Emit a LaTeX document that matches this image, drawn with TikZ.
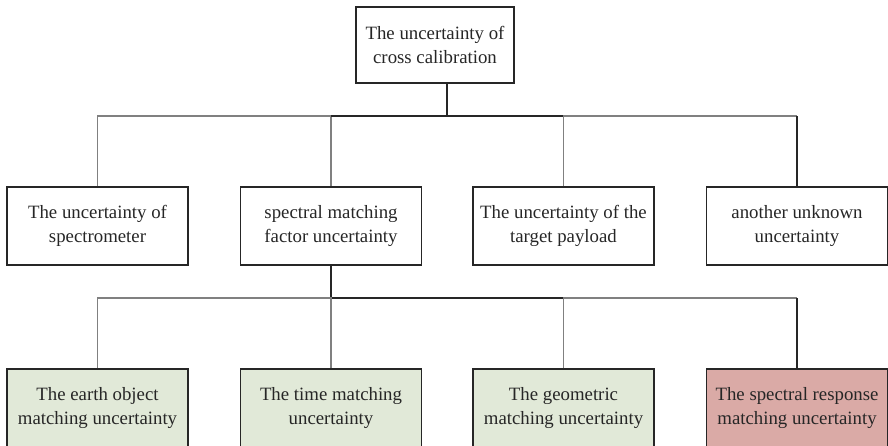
\documentclass[tikz,border=0pt]{standalone}
\usepackage{fontspec}
\setmainfont{Liberation Serif}
\definecolor{leafgreen}{RGB}{225,233,216}
\definecolor{leafred}{RGB}{218,170,166}
\begin{document}
\begin{tikzpicture}[
			x=1pt, y=-1pt,
			every node/.style={font=\fontsize{18.8}{24}\selectfont, align=center, text=black!85},
			box/.style={rectangle, draw=black!85, line width=1.2pt, minimum width=181pt, minimum height=78pt, inner sep=0pt},
			leaf/.style={box, fill=leafgreen},
			leafhot/.style={box, fill=leafred},
			link/.style={draw=black!85, line width=1.4pt},
			linkgray/.style={draw=black!50, line width=1.4pt}
		]
			\useasboundingbox (0,0) rectangle (888,445);

			\node[box, minimum width=158pt, minimum height=76pt] (root) at (435,45) {The uncertainty of\\cross calibration};

			\node[box] (spec) at (97.5,226) {The uncertainty of\\spectrometer};
			\node[box] (smf) at (331,226) {spectral matching\\factor uncertainty};
			\node[box] (tgt) at (563.5,226) {The uncertainty of the\\target payload};
			\node[box] (other) at (797,226) {another unknown\\uncertainty};

			\node[leaf] (earth) at (97.5,408) {The earth object\\matching uncertainty};
			\node[leaf] (time) at (331,408) {The time matching\\uncertainty};
			\node[leaf] (geo) at (563.5,408) {The geometric\\matching uncertainty};
			\node[leafhot] (resp) at (797,408) {The spectral response\\matching uncertainty};

			% first level
			\coordinate (hub) at (447,116);
			\draw[link] (hub |- root.south) -- (hub);
			\draw[linkgray] (spec.north) -- (spec.north |- hub) -- (smf.north |- hub) -- (smf.north);
			\draw[link] (smf.north |- hub) -- (tgt.north |- hub);
			\draw[linkgray] (tgt.north) -- (tgt.north |- hub) -- (other.north |- hub);
			\draw[link] (other.north |- hub) -- (other.north);

			% second level
			\coordinate (hub2) at (331,298);
			\draw[link] (smf.south) -- (hub2) -- (geo.north |- hub2);
			\draw[linkgray] (earth.north) -- (earth.north |- hub2) -- (hub2) -- (time.north);
			\draw[linkgray] (geo.north) -- (geo.north |- hub2) -- (resp.north |- hub2);
			\draw[link] (resp.north |- hub2) -- (resp.north);
		\end{tikzpicture}
\end{document}
